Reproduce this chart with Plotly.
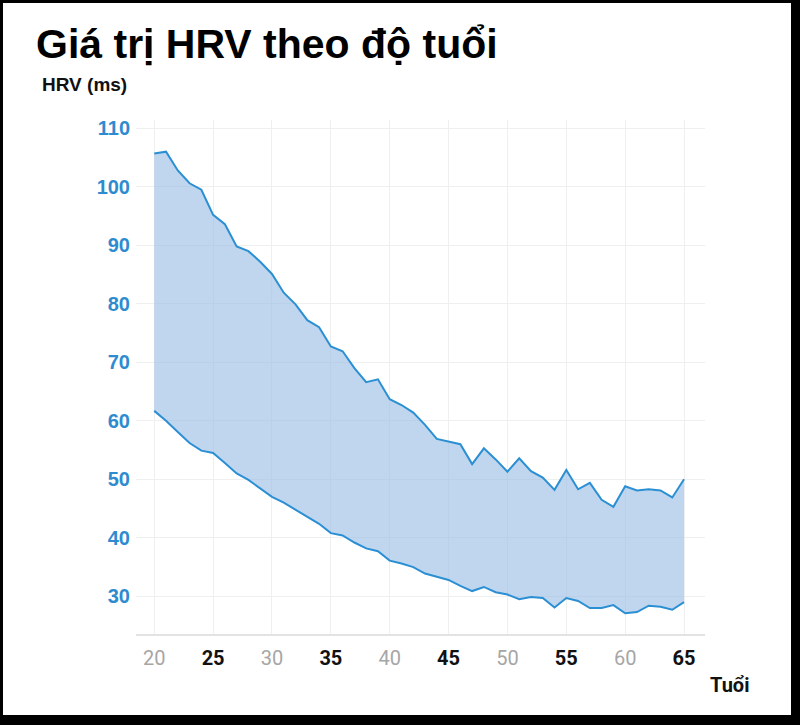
import plotly.graph_objects as go

ages = list(range(20, 66))
hrv_upper = [105.7, 106.0, 102.8, 100.6, 99.5, 95.2, 93.6, 89.8, 89.0, 87.2,
             85.1, 81.9, 79.9, 77.2, 76.0, 72.7, 71.9, 69.0, 66.6, 67.1,
             63.7, 62.7, 61.4, 59.3, 56.9, 56.4, 56.0, 52.6, 55.3, 53.4,
             51.3, 53.6, 51.4, 50.3, 48.2, 51.6, 48.3, 49.4, 46.5, 45.3,
             48.8, 48.1, 48.3, 48.1, 46.9, 50.0]
hrv_lower = [61.7, 60.0, 58.1, 56.2, 54.9, 54.5, 52.8, 51.0, 49.9, 48.5,
             47.0, 46.0, 44.8, 43.6, 42.4, 40.8, 40.4, 39.2, 38.2, 37.7,
             36.1, 35.6, 35.0, 33.9, 33.4, 32.8, 31.8, 30.9, 31.6, 30.7,
             30.3, 29.5, 29.9, 29.7, 28.1, 29.7, 29.2, 28.0, 28.0, 28.5,
             27.1, 27.3, 28.4, 28.2, 27.7, 29.0]
x_ticks = [20, 25, 30, 35, 40, 45, 50, 55, 60, 65]
y_ticks = [30, 40, 50, 60, 70, 80, 90, 100, 110]

W, H = 800, 725
L, R, T, B = 136, 95, 120, 91
PW, PH = W - L - R, H - T - B

def px(x):
    return (x - L) / PW

def py(y):
    return (H - B - y) / PH

LINE = "#2b8fd3"
FILL = "rgba(150,187,228,0.6)"

fig = go.Figure()
fig.add_trace(go.Scatter(x=ages, y=hrv_lower, mode="lines",
                         line=dict(color=LINE, width=2), hoverinfo="skip",
                         showlegend=False))
fig.add_trace(go.Scatter(x=ages, y=hrv_upper, mode="lines", fill="tonexty",
                         fillcolor=FILL, line=dict(color=LINE, width=2),
                         hoverinfo="skip", showlegend=False))

x_text = []
for i, v in enumerate(x_ticks):
    if i % 2 == 0:
        x_text.append(f'<span style="color:#a6a6a6">{v}</span>')
    else:
        x_text.append(f'<b>{v}</b>')

fig.update_xaxes(range=[18.45, 66.78], tickvals=x_ticks, ticktext=x_text,
                 showgrid=True, gridcolor="#efefef", gridwidth=1,
                 showline=True, linecolor="#e3e3e3", linewidth=2,
                 zeroline=False, ticks="", ticklabelstandoff=5,
                 tickfont=dict(family="Roboto", size=20, color="#111111"))
fig.update_yaxes(range=[23.56, 111.42], tickvals=y_ticks,
                 showgrid=True, gridcolor="#efefef", gridwidth=1,
                 showline=False, zeroline=False, ticks="", ticklabelstandoff=5,
                 tickfont=dict(family="Liberation Sans", size=20, color="#2e8bcf",
                               weight="bold"))

ann = [
    dict(text="<b>Giá trị HRV theo độ tuổi</b>", x=px(34), y=py(44),
         xanchor="left", yanchor="middle",
         font=dict(family="Liberation Sans", size=41, color="#000000")),
    dict(text="<b>HRV (ms)</b>", x=px(40), y=py(84),
         xanchor="left", yanchor="middle",
         font=dict(family="Liberation Sans", size=19, color="#111111")),
    dict(text="<b>Tuổi</b>", x=px(751), y=py(685),
         xanchor="right", yanchor="middle",
         font=dict(family="Roboto", size=20, color="#111111")),
]
for a in ann:
    a.update(xref="paper", yref="paper", showarrow=False)

shapes = []
for x0, y0, x1, y1 in [(0, 0, 3, H), (0, 0, W, 3), (791, 0, W, H), (0, 715, W, H)]:
    shapes.append(dict(type="rect", xref="paper", yref="paper",
                       x0=px(x0), x1=px(x1), y0=py(y1), y1=py(y0),
                       fillcolor="#000000", line=dict(width=0), layer="above"))

fig.update_layout(width=W, height=H, margin=dict(l=L, r=R, t=T, b=B),
                  paper_bgcolor="white", plot_bgcolor="white",
                  annotations=ann, shapes=shapes, showlegend=False)

fig.write_html("out.html")
